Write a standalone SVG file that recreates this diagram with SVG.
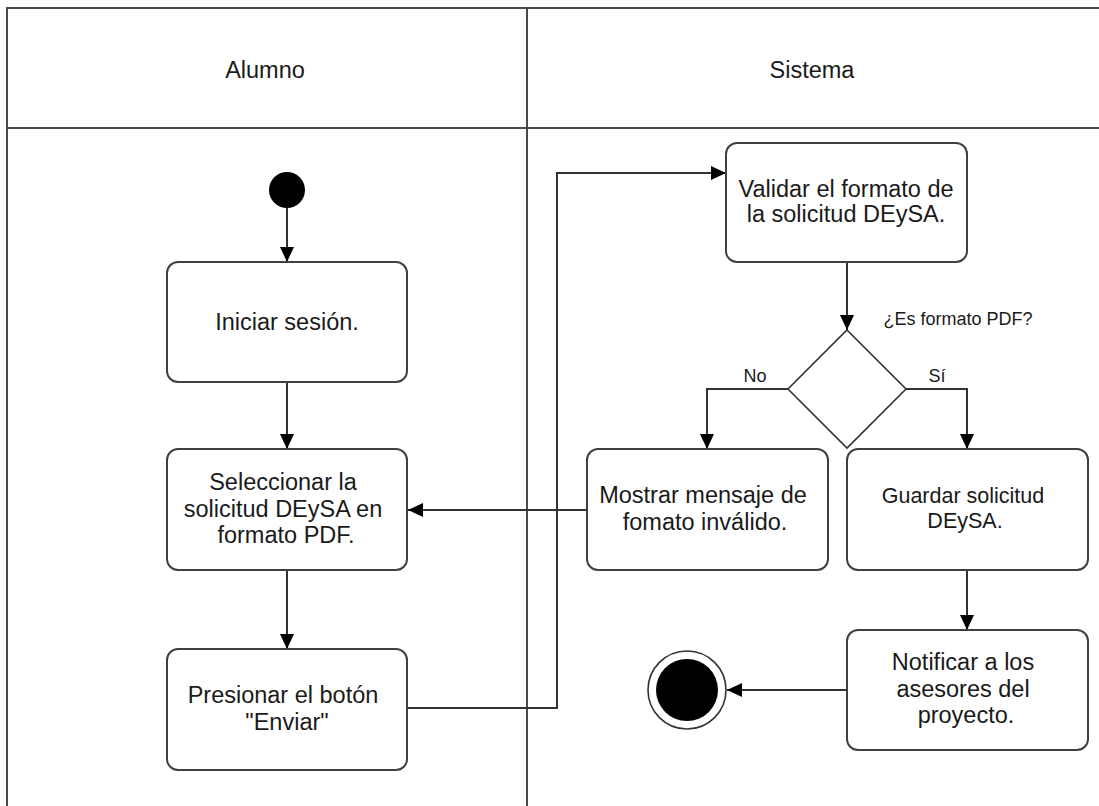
<svg xmlns="http://www.w3.org/2000/svg" width="1099" height="806" viewBox="0 0 1099 806">
<style>
.lane{stroke:#4a4a4a;stroke-width:2;fill:none}
.box{fill:#fff;stroke:#404040;stroke-width:2}
.dia{fill:#fff;stroke:#333;stroke-width:1.6}
.edge{fill:none;stroke:#333;stroke-width:2}
text{font-family:"Liberation Sans",Arial,sans-serif;fill:#1a1a1a;text-anchor:middle}
.t{font-size:23.5px}
.s{font-size:21.5px}
.l{font-size:18px}
</style>
<defs>
<marker id="arr" markerUnits="userSpaceOnUse" markerWidth="16" markerHeight="14" refX="15" refY="7" orient="auto">
<path d="M0,0 L15,7 L0,14 z" fill="#000"/>
</marker>
</defs>
<rect width="1099" height="806" fill="#fff"/>
<g id="lanes">
<path class="lane" d="M7,806 V8 H1099"/>
<path class="lane" d="M7,128 H1099"/>
<path class="lane" d="M527,8 V806"/>
<text class="t" x="265" y="78">Alumno</text>
<text class="t" x="812" y="78">Sistema</text>
</g>
<g id="connectors">
<path class="edge" d="M287,208 V262" marker-end="url(#arr)"/>
<path class="edge" d="M287,382 V449" marker-end="url(#arr)"/>
<path class="edge" d="M287,570 V649" marker-end="url(#arr)"/>
<path class="edge" d="M407,708 H557 V173 H726" marker-end="url(#arr)"/>
<path class="edge" d="M847,262 V330" marker-end="url(#arr)"/>
<path class="edge" d="M788,389 H707 V449" marker-end="url(#arr)"/>
<path class="edge" d="M906,389 H967 V449" marker-end="url(#arr)"/>
<path class="edge" d="M587,510 H408" marker-end="url(#arr)"/>
<path class="edge" d="M967,570 V630" marker-end="url(#arr)"/>
<path class="edge" d="M847,690 H727" marker-end="url(#arr)"/>
<text class="l" x="958" y="325">¿Es formato PDF?</text>
<text class="l" x="755" y="382">No</text>
<text class="l" x="937" y="382">Sí</text>
</g>
<g id="start">
<circle cx="287" cy="190" r="18" fill="#000"/>
</g>
<g id="iniciar">
<rect class="box" x="167" y="262" width="240" height="120" rx="11"/>
<text class="t" x="287" y="330">Iniciar sesión.</text>
</g>
<g id="seleccionar">
<rect class="box" x="167" y="449" width="240" height="121" rx="11"/>
<text class="t" x="283" y="490">Seleccionar la</text>
<text class="t" x="283" y="517">solicitud DEySA en</text>
<text class="t" x="286" y="543">formato PDF.</text>
</g>
<g id="presionar">
<rect class="box" x="167" y="649" width="240" height="121" rx="11"/>
<text class="t" x="283" y="703">Presionar el botón</text>
<text class="t" x="287" y="730">"Enviar"</text>
</g>
<g id="validar">
<rect class="box" x="726" y="143" width="241" height="119" rx="11"/>
<text class="t" x="846" y="197">Validar el formato de</text>
<text class="t" x="846" y="222">la solicitud DEySA.</text>
</g>
<g id="decision">
<polygon class="dia" points="847,330 906,389 847,448 788,389"/>
</g>
<g id="mostrar">
<rect class="box" x="587" y="449" width="241" height="121" rx="11"/>
<text class="t" x="703" y="503">Mostrar mensaje de</text>
<text class="t" x="705" y="530">fomato inválido.</text>
</g>
<g id="guardar">
<rect class="box" x="847" y="449" width="241" height="121" rx="11"/>
<text class="s" x="963" y="503">Guardar solicitud</text>
<text class="s" x="965" y="528">DEySA.</text>
</g>
<g id="notificar">
<rect class="box" x="847" y="630" width="241" height="120" rx="11"/>
<text class="t" x="963" y="670">Notificar a los</text>
<text class="t" x="963" y="697">asesores del</text>
<text class="t" x="966" y="723">proyecto.</text>
</g>
<g id="final">
<circle cx="687" cy="690" r="39" fill="#fff" stroke="#333" stroke-width="1.6"/>
<circle cx="687" cy="690" r="31" fill="#000"/>
</g>
</svg>
